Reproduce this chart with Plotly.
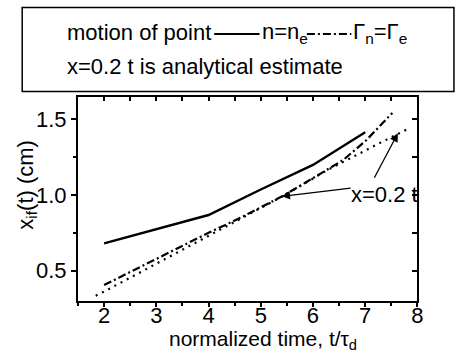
import plotly.graph_objects as go

# ---- data ----
t_n = [2, 4, 5, 6, 7]
x_n = [0.68, 0.867, 1.035, 1.197, 1.413]

t_gamma = [2, 4, 4.56, 5.41, 6, 6.58, 7.02, 7.52]
x_gamma = [0.405, 0.75, 0.84, 0.99, 1.11, 1.23, 1.36, 1.54]

t_est = [1.84, 2.06, 5.4, 6.26, 7.27, 7.85]
x_est = [0.335, 0.373, 0.987, 1.16, 1.34, 1.44]

x_ticks = [2, 3, 4, 5, 6, 7, 8]
y_ticks = [0.5, 1.0, 1.5]

W, H = 456, 356
FONT = "Liberation Sans, Arial, Helvetica, sans-serif"


def px(x):
    return x / W


def py(y):
    return 1 - y / H


fig = go.Figure()
fig.add_trace(go.Scatter(x=t_n, y=x_n, mode="lines",
                         line=dict(color="black", width=2.4), showlegend=False))
fig.add_trace(go.Scatter(x=t_gamma, y=x_gamma, mode="lines",
                         line=dict(color="black", width=2.2, dash="8px,3px,2px,3px"),
                         showlegend=False))
fig.add_trace(go.Scatter(x=t_est, y=x_est, mode="lines",
                         line=dict(color="black", width=2.2, dash="2px,5px"),
                         showlegend=False))

xdom = [px(79), px(423)]
ydom = [py(301), py(97)]

fig.update_layout(
    width=W, height=H,
    margin=dict(l=0, r=0, t=0, b=0),
    paper_bgcolor="white", plot_bgcolor="white",
    font=dict(family=FONT, size=22, color="black"),
    xaxis=dict(domain=xdom, range=[1.5, 8], tickvals=x_ticks,
               ticks="outside", ticklen=4, tickwidth=1.5, tickcolor="black",
               minor=dict(dtick=0.5, tick0=1.5, ticks="outside", ticklen=3,
                          tickwidth=1.5, tickcolor="black"),
               showline=True, linewidth=2, linecolor="black", mirror=True,
               showgrid=False, zeroline=False, ticklabelstandoff=-10,
               tickfont=dict(size=22)),
    yaxis=dict(domain=ydom, range=[0.3, 1.645], tickvals=y_ticks,
               ticktext=["0.5", "1.0", "1.5"],
               ticks="outside", ticklen=5, tickwidth=1.5, tickcolor="black",
               minor=dict(dtick=0.25, tick0=0.25, ticks="outside", ticklen=3,
                          tickwidth=1.5, tickcolor="black"),
               showline=True, linewidth=2, linecolor="black", mirror=True,
               showgrid=False, zeroline=False,
               tickfont=dict(size=22)),
    xaxis2=dict(overlaying="x", matches="x", side="top", anchor="y",
                range=[1.5, 8], dtick=0.5, tick0=1.5, ticks="inside",
                ticklen=4, tickwidth=1.5, tickcolor="black",
                showticklabels=False, showgrid=False, zeroline=False,
                showline=False),
    yaxis2=dict(overlaying="y", matches="y", side="right", anchor="x",
                range=[0.3, 1.645], dtick=0.25, tick0=0.25, ticks="inside",
                ticklen=5, tickwidth=1.5, tickcolor="black",
                showticklabels=False, showgrid=False, zeroline=False,
                showline=False),
)

# invisible carrier so the mirrored tick axes are drawn
fig.add_trace(go.Scatter(x=[t_n[0]], y=[x_n[0]], xaxis="x2", yaxis="y2",
                         mode="markers", marker=dict(opacity=0),
                         showlegend=False, hoverinfo="skip"))

# legend box
fig.add_shape(type="rect", xref="paper", yref="paper",
              x0=px(22.5), x1=px(460), y0=py(91.5), y1=py(7.5),
              line=dict(color="black", width=1.5), fillcolor="rgba(0,0,0,0)")
# legend samples
fig.add_shape(type="line", xref="paper", yref="paper",
              x0=px(217), x1=px(263), y0=py(34), y1=py(34),
              line=dict(color="black", width=2.2))
fig.add_shape(type="line", xref="paper", yref="paper",
              x0=px(311), x1=px(356), y0=py(34), y1=py(34),
              line=dict(color="black", width=2.2, dash="8px,3px,2px,3px"))

ann = []
ann.append(dict(text="motion of point", x=px(66), y=py(32), xanchor="left",
                yanchor="middle"))
ann.append(dict(text="n=n<sub>e</sub>", x=px(263), y=py(33), xanchor="left",
                yanchor="middle"))
ann.append(dict(text="Γ<sub>n</sub>=Γ<sub>e</sub>", x=px(356), y=py(33),
                xanchor="left", yanchor="middle"))
ann.append(dict(text="x=0.2 t is analytical estimate", x=px(66), y=py(66),
                xanchor="left", yanchor="middle"))
# axis titles
ann.append(dict(text="normalized time, t/τ<sub>d</sub>", x=px(267), y=py(340),
                xanchor="center", yanchor="middle", font_size=21))
ann.append(dict(text="x<sub>if</sub>(t) (cm)", x=px(27), y=py(185),
                xanchor="center", yanchor="middle", textangle=-90))
for a in ann:
    size = a.pop("font_size", 22)
    a.update(xref="paper", yref="paper", showarrow=False,
             font=dict(family=FONT, size=size, color="black"))
fig.update_layout(annotations=ann)

# "x=0.2 t" label with two arrows
fig.add_annotation(text="x=0.2 t", x=7.37, y=1.0, xref="x", yref="y",
                   showarrow=False, font=dict(family=FONT, size=22, color="black"))
fig.add_annotation(text="", x=5.4, y=0.99, ax=6.75, ay=1.045, xref="x", yref="y",
                   axref="x", ayref="y", showarrow=True, arrowhead=2,
                   arrowsize=1.3, arrowwidth=1.3, arrowcolor="black")
fig.add_annotation(text="", x=7.625, y=1.406, ax=7.16, ay=1.103, xref="x", yref="y",
                   axref="x", ayref="y", showarrow=True, arrowhead=2,
                   arrowsize=1.3, arrowwidth=1.3, arrowcolor="black")

fig.write_html("out.html")
